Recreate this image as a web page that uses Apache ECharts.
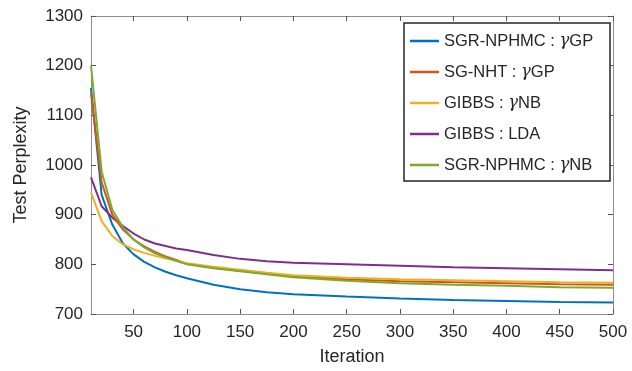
<!DOCTYPE html>
<html>
<head>
<meta charset="utf-8">
<script src="https://cdn.jsdelivr.net/npm/echarts@6/dist/echarts.min.js"></script>
<style>
html,body{margin:0;padding:0;background:#fff;}
#chart{width:632px;height:371px;}
</style>
</head>
<body>
<div id="chart"></div>
<script>
var iterations = [10,20,30,40,50,60,70,80,90,100,125,150,175,200,250,300,350,400,450,500];
var sgrGP   = [1155,940,880,842,820,805,794,785,778,772,759,750,744,740,735,731,728,726,724,723];
var sgnhtGP = [1145,965,900,870,850,836,825,816,809,801,793,787,782,776,770,766,764,762,760,759];
var gibbsNB = [945,887,857,840,830,823,817,812,807,802,795,789,783,778,773,770,768,766,764,763];
var gibbsLDA= [975,917,894,877,862,850,842,837,832,829,819,811,806,803,800,797,794,792,790,788];
var sgrNB   = [1200,987,910,874,850,834,822,814,807,800,792,786,780,774,767,762,759,757,754,753];
var seriesNames = ['SGR-NPHMC : {g|γ}GP','SG-NHT : {g|γ}GP','GIBBS : {g|γ}NB','GIBBS : LDA','SGR-NPHMC : {g|γ}NB'];
var seriesKeys = ['s1','s2','s3','s4','s5'];
var seriesValues = [sgrGP, sgnhtGP, gibbsNB, gibbsLDA, sgrNB];
var colors = ['#0072BD','#D95319','#EDB120','#7E2F8E','#77AC30'];
var xTicks = [50,100,150,200,250,300,350,400,450,500];

var font = 'Liberation Sans, Arial, Helvetica, sans-serif';
var txt = '#262626';
var axisCol = '#8f8f8f';

function pairs(vals){ return iterations.map(function(x,i){ return [x, vals[i]]; }); }

var series = seriesValues.map(function(v,i){
  return {
    name: seriesKeys[i], type: 'line', data: pairs(v), showSymbol: false, symbol: 'none',
    smooth: false, lineStyle: {color: colors[i], width: 2}, itemStyle: {color: colors[i]},
    z: 10 + (i===3 ? 0 : i)
  };
});
var nameMap = {};
seriesKeys.forEach(function(k,i){ nameMap[k] = seriesNames[i]; });

var commonX = {
  type: 'value', min: 10, max: 500,
  axisLine: {show: true, lineStyle: {color: axisCol, width: 1}},
  axisTick: {show: true, inside: true, length: 5, lineStyle: {color: '#555'}, customValues: xTicks},
  splitLine: {show: false}
};
var commonY = {
  type: 'value', min: 700, max: 1300, interval: 100,
  axisLine: {show: true, lineStyle: {color: axisCol, width: 1}},
  axisTick: {show: true, inside: true, length: 5, lineStyle: {color: '#555'}},
  splitLine: {show: false}
};

var chart = echarts.init(document.getElementById('chart'), null, {renderer: 'canvas'});
chart.setOption({
  animation: false,
  backgroundColor: '#fff',
  grid: {left: 91, top: 16, width: 522, height: 298, containLabel: false},
  legend: {
    show: true, orient: 'vertical', left: 404, top: 23,
    data: seriesKeys,
    formatter: function(n){ return nameMap[n]; },
    icon: 'rect', itemWidth: 29, itemHeight: 2.5, itemGap: 11,
    padding: [8, 8, 6, 6],
    borderColor: '#262626', borderWidth: 1.5, backgroundColor: '#fff',
    textStyle: {fontFamily: font, fontSize: 16.5, color: txt, lineHeight: 20, width: 158, overflow: 'none',
      rich: {g: {fontFamily: 'DejaVu Serif, serif', fontStyle: 'italic', fontSize: 16.5, color: txt}}}
  },
  xAxis: [
    Object.assign({}, commonX, {
      position: 'bottom', name: 'Iteration', nameLocation: 'middle', nameGap: 34,
      nameTextStyle: {fontFamily: font, fontSize: 18, color: txt},
      axisLabel: {show: true, fontFamily: font, fontSize: 17, color: txt, margin: 10, customValues: xTicks,
        formatter: function(v){ return String(v); }}
    }),
    Object.assign({}, commonX, {position: 'top', axisLabel: {show: false}})
  ],
  yAxis: [
    Object.assign({}, commonY, {
      position: 'left', name: 'Test Perplexity', nameLocation: 'middle', nameGap: 61, nameRotate: 90,
      nameTextStyle: {fontFamily: font, fontSize: 18, color: txt},
      axisLabel: {show: true, fontFamily: font, fontSize: 17, color: txt, margin: 8,
        formatter: function(v){ return String(v); }}
    }),
    Object.assign({}, commonY, {position: 'right', axisLabel: {show: false}})
  ],
  series: series
});
</script>
</body>
</html>
